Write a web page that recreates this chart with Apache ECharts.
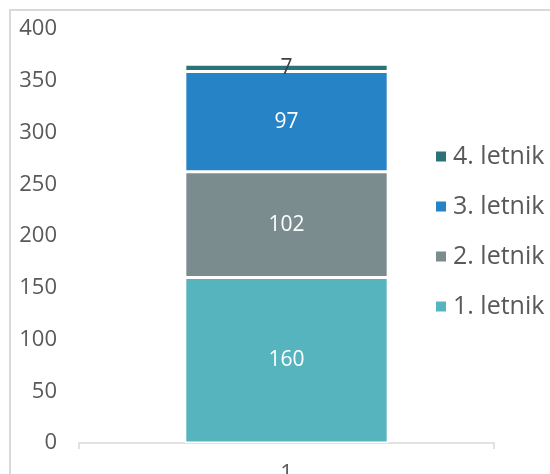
<!DOCTYPE html>
<html><head><meta charset="utf-8">
<script src="https://cdn.jsdelivr.net/npm/echarts@6/dist/echarts.min.js"></script>
<style>html,body{margin:0;padding:0;background:#fff}#c{width:550px;height:474px}</style>
</head><body><div id="c"></div>
<script>
const categories = ['1'];
const seriesNames = ['1. letnik', '2. letnik', '3. letnik', '4. letnik'];
const letnik1 = [160];
const letnik2 = [102];
const letnik3 = [97];
const letnik4 = [7];
const yTicks = [0, 50, 100, 150, 200, 250, 300, 350, 400];

const colors = ['#56B4BE', '#7A8C8E', '#2683C6', '#2C7377'];
const dataSets = [letnik1, letnik2, letnik3, letnik4];
const font = '"Open Sans", sans-serif';

const chart = echarts.init(document.getElementById('c'), null, {renderer: 'canvas'});
chart.setOption({
  animation: false,
  graphic: [{
    type: 'rect', shape: {x: 10, y: 10, width: 560, height: 500},
    style: {fill: 'none', stroke: '#d9d9d9', lineWidth: 2}, silent: true, z: -1
  }],
  grid: {left: 79, right: 56, top: 29, bottom: 31, containLabel: false, outerBoundsMode: 'none'},
  legend: {
    orient: 'vertical', left: 429, top: 139, itemGap: 25,
    itemWidth: 12, itemHeight: 12, icon: 'rect',
    data: seriesNames.slice().reverse(),
    textStyle: {fontFamily: font, fontSize: 25, color: '#595959', padding: [0, 0, 0, 1]}
  },
  xAxis: {
    type: 'category', data: categories,
    axisLine: {lineStyle: {color: '#d9d9d9', width: 1.5}},
    axisTick: {show: true, length: 6, lineStyle: {color: '#d9d9d9', width: 1.5}},
    axisLabel: {fontFamily: font, fontSize: 22, color: '#595959', margin: 20}
  },
  yAxis: {
    type: 'value', min: yTicks[0], max: yTicks[yTicks.length - 1], interval: 50,
    axisLine: {show: false}, axisTick: {show: false}, splitLine: {show: false},
    axisLabel: {fontFamily: font, fontSize: 22, color: '#595959', margin: 22}
  },
  series: seriesNames.map((n, i) => ({
    name: n, type: 'bar', stack: 'total', data: dataSets[i],
    barWidth: '49%',
    itemStyle: {color: colors[i], borderColor: '#fff', borderWidth: 1.5},
    label: {
      show: true, position: 'inside', fontFamily: font, fontSize: 21,
      color: i === 3 ? '#404040' : '#fff'
    }
  }))
});
</script></body></html>
